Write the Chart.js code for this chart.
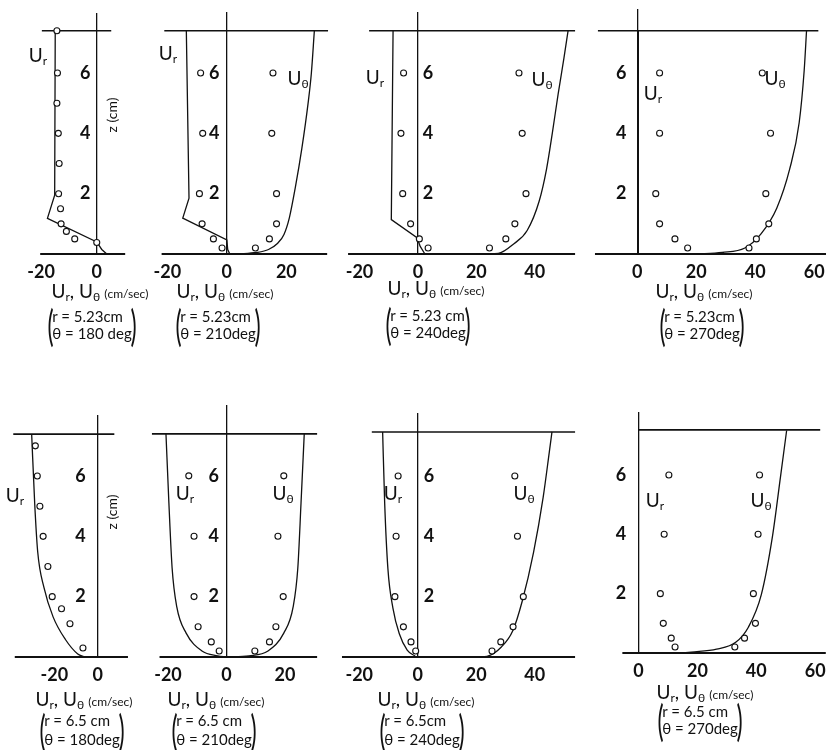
<!DOCTYPE html>
<html>
<head>
<meta charset="utf-8">
<script src="https://cdn.jsdelivr.net/npm/chart.js@4.4.1/dist/chart.umd.min.js"></script>
<style>
  html, body { margin: 0; padding: 0; background: #fff; }
  #fig { position: relative; width: 831px; height: 750px; overflow: hidden; font-family: Lato, 'DejaVu Sans', sans-serif; color: #111; }
  #fig canvas { position: absolute; }
  .lbl { position: absolute; transform: translate(-50%, -50%); white-space: nowrap; line-height: 1; }
  .u { font-size: 19px; }
  .u sub { font-size: 12px; vertical-align: -3px; }
  .unit { font-size: 12px; }
  .zlab { transform: translate(-50%, -50%) rotate(-90deg); font-size: 14px; }
  .cond { display: flex; align-items: center; }
  .paren { font-size: 42px; line-height: 1; display: inline-block; transform: scaleX(0.55); margin: 0 -4px; }
  .cond .lines { font-size: 15px; line-height: 17px; }
  .cond.low .lines { line-height: 19px; }
</style>
</head>
<body>
<div id="fig"></div>
<script>
// heights (cm) of the measured points, shared by most stations
const zMeas = [6, 4, 2, 1, 0.5, 0.2];
const yTicks = [2, 4, 6];

// r = 5.23 cm, theta = 180 deg
const p1UrPtsX = [-14.3, -14.1, -14.3, -13.8, -13.5, -13.7, -13.0, -12.8, -10.9, -7.9, 0];
const p1UrPtsZ = [7.4, 6, 5, 4, 3, 2, 1.5, 1, 0.75, 0.5, 0.38];
const p1UrLineX = [-14.9, -15.1, -17.7, 0, 1.8, 3.6];
const p1UrLineZ = [7.4, 1.95, 1.18, 0.4, 0.15, 0];

// r = 5.23 cm, theta = 210 deg
const p2UrPtsX = [-8.8, -8.1, -9.2, -8.3, -4.5, -1.6];
const p2UtPtsX = [15.5, 15.1, 16.7, 16.7, 14.3, 9.6];
const p2UrLineX = [-13.6, -12.7, -14.8, 0, 0.3, 1];
const p2UrLineZ = [7.4, 1.85, 1.19, 0.47, 0.15, 0];
const p2UtLineX = [0, 5, 10, 14, 17, 19.2, 21, 23, 25.2, 27.3, 28.4, 29.4];
const p2UtLineZ = [0, 0.01, 0.05, 0.15, 0.35, 0.65, 1.2, 2.2, 3.5, 5.0, 6.0, 7.4];

// r = 5.23 cm, theta = 240 deg
const p3UrPtsX = [-4.9, -5.8, -5.2, -2.5, 0.5, 3.5];
const p3UtPtsX = [34.6, 35.7, 37, 33.2, 30.1, 24.5];
const p3UrLineX = [-8.5, -9.1, -0.3, 0.8, 2.4];
const p3UrLineZ = [7.4, 1.14, 0.54, 0.25, 0];
const p3UtLineX = [20, 27.5, 33, 37.4, 41.5, 44, 46, 48, 50, 51.4];
const p3UtLineZ = [0, 0.02, 0.35, 0.78, 1.75, 2.8, 4, 5.3, 6.5, 7.4];

// r = 5.23 cm, theta = 270 deg
const p4UrPtsX = [7.6, 7.6, 6.3, 7.6, 12.8, 17.1];
const p4UtPtsX = [42.4, 45.2, 43.6, 44.6, 40.4, 37.9];
const p4UrLineX = [0.4, 0.4];
const p4UrLineZ = [0, 7.4];
const p4UtLineX = [20, 28.8, 36.5, 41.9, 47.3, 51.7, 54.9, 56.6, 57.4];
const p4UtLineZ = [0, 0.05, 0.2, 0.66, 1.52, 2.82, 4.35, 6.08, 7.4];

// r = 6.5 cm, theta = 180 deg
const p5UrPtsX = [-28.8, -27.9, -26.7, -25.2, -23.0, -21.0, -16.7, -12.8, -6.8];
const p5UrPtsZ = [7.0, 6, 5, 4, 3, 2, 1.6, 1.1, 0.3];
const p5UrLineX = [-30.5, -29.1, -27.7, -24.8, -20.6, -14.9, -9.2, -6];
const p5UrLineZ = [7.39, 5.1, 3.48, 2.3, 1.33, 0.58, 0.1, 0];

// r = 6.5 cm, theta = 210 deg
const p6UrPtsX = [-12.9, -11.1, -11.1, -9.7, -5.2, -2.5];
const p6UtPtsX = [19.6, 17.6, 19.4, 16.9, 14.7, 9.7];
const p6UrLineX = [-20.7, -19.7, -18.6, -17, -13.8, -8.4, -3, 0];
const p6UrLineZ = [7.39, 5.1, 2.95, 1.66, 0.79, 0.2, 0.04, 0];
const p6UtLineX = [0, 7.7, 14.2, 19.6, 22.8, 24.4, 25.5, 26.6];
const p6UtLineZ = [0, 0.04, 0.2, 0.79, 1.66, 2.95, 5.1, 7.39];

// r = 6.5 cm, theta = 240 deg
const p7UrPtsX = [-6.7, -7.4, -7.8, -4.9, -2.3, -0.7];
const p7UtPtsX = [33.2, 34.1, 36.1, 32.6, 28.4, 25.4];
const p7UrLineX = [-12, -11.3, -10.2, -8.5, -6.3, -3.6, -0.9];
const p7UrLineZ = [7.46, 5.1, 2.93, 1.63, 0.77, 0.23, 0.03];
const p7UtLineX = [21, 23.7, 28.6, 32.5, 35.7, 39.6, 42.9, 45, 45.9];
const p7UtLineZ = [0, 0.02, 0.33, 0.87, 1.84, 3.47, 5.3, 6.8, 7.46];

// r = 6.5 cm, theta = 270 deg
const p8UrPtsX = [10.3, 8.7, 7.4, 8.4, 11.1, 12.4];
const p8UtPtsX = [41.1, 40.6, 39, 39.7, 36, 32.7];
const p8UtLineX = [15, 17.9, 26.5, 33, 37.3, 41.7, 45.5, 48.2, 50.3];
const p8UtLineZ = [0, 0.03, 0.13, 0.36, 0.87, 1.97, 3.94, 5.93, 7.5];

// free surface level and its drawn extent, per station
const surfaceZ = [7.4, 7.4, 7.4, 7.4, 7.39, 7.39, 7.46, 7.52];
const surfaceFrom = [-19.7, -21, -16.7, -13.3, -39, -25.5, -15.7, 0];
const surfaceTo = [5.2, 34, 53.8, 61.4, 7.7, 31, 53.8, 61.7];
// tank floor (z = 0) extent, per station
const floorFrom = [-20.3, -21.9, -23.9, -14.3, -38.3, -22.9, -25.9, -5.5];
const floorTo = [10.2, 33.7, 53.8, 64, 14, 31, 53.8, 63.6];

const xTicks = [[-20, 0], [-20, 0, 20], [-20, 0, 20, 40], [0, 20, 40, 60],
                [-20, 0], [-20, 0, 20], [-20, 0, 20, 40], [0, 20, 40, 60]];
const stationR = ['5.23cm', '5.23cm', '5.23 cm', '5.23cm', '6.5 cm', '6.5 cm', '6.5cm', '6.5 cm'];
const stationTheta = ['180 deg', '210deg', '240deg', '270deg', '180deg', '210deg', '240deg', '270deg'];

// per panel: measured points [x, z] and model curves [x, z, smooth]
const pts = [
  [[p1UrPtsX, p1UrPtsZ]],
  [[p2UrPtsX, zMeas], [p2UtPtsX, zMeas]],
  [[p3UrPtsX, zMeas], [p3UtPtsX, zMeas]],
  [[p4UrPtsX, zMeas], [p4UtPtsX, zMeas]],
  [[p5UrPtsX, p5UrPtsZ]],
  [[p6UrPtsX, zMeas], [p6UtPtsX, zMeas]],
  [[p7UrPtsX, zMeas], [p7UtPtsX, zMeas]],
  [[p8UrPtsX, zMeas], [p8UtPtsX, zMeas]]
];
const curves = [
  [[p1UrLineX, p1UrLineZ, false]],
  [[p2UrLineX, p2UrLineZ, false], [p2UtLineX, p2UtLineZ, true]],
  [[p3UrLineX, p3UrLineZ, false], [p3UtLineX, p3UtLineZ, true]],
  [[p4UrLineX, p4UrLineZ, false], [p4UtLineX, p4UtLineZ, true]],
  [[p5UrLineX, p5UrLineZ, true]],
  [[p6UrLineX, p6UrLineZ, true], [p6UtLineX, p6UtLineZ, true]],
  [[p7UrLineX, p7UrLineZ, true], [p7UtLineX, p7UtLineZ, true]],
  [[p8UtLineX, p8UtLineZ, true]]
];

// page placement of each panel: canvas box, pixel of x=0 / z=0, px per unit, where the z labels sit
const frames = [
  {left: 14, right: 132, top: 8, x0: 99, sx: 3.05, z0: 254, sz: 30.8, tickX: -2.3},
  {left: 148, right: 334, top: 7, x0: 226, sx: 3.15, z0: 254, sz: 30.8, tickX: -2.5},
  {left: 340, right: 582, top: 7, x0: 416, sx: 3.05, z0: 254, sz: 30.8, tickX: 5.2},
  {left: 588, right: 831, top: 4, x0: 634, sx: 3.08, z0: 254, sz: 30.8, tickX: -3.6},
  {left: 6, right: 135, top: 410, x0: 100, sx: 2.35, z0: 657, sz: 30.8, tickX: -5.5},
  {left: 145, right: 324, top: 400, x0: 226, sx: 3.1, z0: 657, sz: 30.8, tickX: -2.6},
  {left: 334, right: 582, top: 408, x0: 416, sx: 3.05, z0: 657, sz: 30.8, tickX: 5.6},
  {left: 600, right: 831, top: 407, x0: 635, sx: 3.08, z0: 653, sz: 30.3, tickX: -4.2}
];
// caption centres: [x, y of first line, x of bracket block, y of bracket block, taller rows]
const captions = [
  [100, 292, 92, 325, false], [225, 292, 218, 325, false],
  [436, 289, 428, 324, false], [704, 292, 702, 325, false],
  [84, 700, 82, 730, true], [216, 700, 214, 730, true],
  [426, 700, 422, 730, true], [705, 693, 700, 720, false]
];
// in-panel curve names: [text, x, y]
const tags = [
  ['r', 38, 56], ['r', 168, 54], ['t', 298, 79], ['r', 375, 78], ['t', 542, 80],
  ['r', 653, 94], ['t', 775, 79], ['r', 15, 496], ['r', 185, 494], ['t', 283, 494],
  ['r', 393, 494], ['t', 524, 494], ['r', 655, 501], ['t', 761, 501]
];
const zTitles = [[112, 115], [112, 512]];

const fig = document.getElementById('fig');
const AXIS_H = 40;
const ink = '#111';
const tickFont = {family: 'Lato', size: 18, weight: 'bold'};

function toXY(xs, zs) {
  return xs.map((x, k) => ({x: x, y: zs[k]}));
}

function lineSet(data, width, smooth) {
  return {
    data: data, showLine: true, pointRadius: 0, borderColor: ink, borderWidth: width,
    cubicInterpolationMode: smooth ? 'monotone' : 'default', tension: 0, clip: 4
  };
}

frames.forEach((f, i) => {
  const cv = document.createElement('canvas');
  const w = f.right - f.left;
  const h = f.z0 - f.top + AXIS_H;
  cv.width = w; cv.height = h;
  cv.style.left = f.left + 'px'; cv.style.top = f.top + 'px';
  cv.style.width = w + 'px'; cv.style.height = h + 'px';
  fig.appendChild(cv);

  const datasets = [];
  pts[i].forEach(p => datasets.push({
    data: toXY(p[0], p[1]),
    pointRadius: 3, pointBorderWidth: 1.1,
    pointBorderColor: ink, pointBackgroundColor: '#fff', showLine: false, clip: 4
  }));
  curves[i].forEach(c => datasets.push(lineSet(toXY(c[0], c[1]), 1.3, c[2])));
  datasets.push(lineSet([{x: surfaceFrom[i], y: surfaceZ[i]}, {x: surfaceTo[i], y: surfaceZ[i]}], 1.6, false));
  datasets.push(lineSet([{x: floorFrom[i], y: 0}, {x: floorTo[i], y: 0}], 1.8, false));

  new Chart(cv, {
    type: 'scatter',
    data: {datasets: datasets},
    options: {
      responsive: false,
      animation: false,
      devicePixelRatio: 1,
      layout: {padding: 0},
      plugins: {legend: {display: false}, tooltip: {enabled: false}},
      scales: {
        x: {
          type: 'linear',
          position: 'bottom',
          min: (f.left - f.x0) / f.sx,
          max: (f.right - f.x0) / f.sx,
          afterBuildTicks: s => { s.ticks = xTicks[i].map(v => ({value: v})); },
          afterFit: s => { s.height = AXIS_H; s.paddingLeft = 0; s.paddingRight = 0; },
          ticks: {font: tickFont, color: ink, padding: 7, maxRotation: 0, autoSkip: false},
          grid: {
            drawTicks: false,
            lineWidth: 1.3,
            color: c => (c.tick && c.tick.value === 0) ? ink : 'rgba(0,0,0,0)'
          },
          border: {display: false}
        },
        y: {
          type: 'linear',
          position: {x: f.tickX},
          min: 0,
          max: (f.z0 - f.top) / f.sz,
          afterBuildTicks: s => { s.ticks = yTicks.map(v => ({value: v})); },
          afterFit: s => { s.paddingTop = 0; s.paddingBottom = 0; },
          ticks: {font: tickFont, color: ink, padding: 0},
          grid: {display: false},
          border: {display: false}
        }
      }
    }
  });
});

function addLabel(html, x, y, cls) {
  const d = document.createElement('div');
  d.className = 'lbl ' + (cls || '');
  d.style.left = x + 'px';
  d.style.top = y + 'px';
  d.innerHTML = html;
  fig.appendChild(d);
}

const UR = '<span class="u">U<sub>r</sub></span>';
const UT = '<span class="u">U<sub>θ</sub></span>';

tags.forEach(t => addLabel(t[0] === 'r' ? UR : UT, t[1], t[2]));
zTitles.forEach(t => addLabel('z (cm)', t[0], t[1], 'zlab'));

captions.forEach((c, i) => {
  addLabel('<span class="u">U<sub>r</sub>, U<sub>θ</sub></span> <span class="unit">(cm/sec)</span>', c[0], c[1]);
  addLabel('<span class="paren">(</span><div class="lines">r = ' + stationR[i] +
           '<br>θ = ' + stationTheta[i] + '</div><span class="paren">)</span>', c[2], c[3],
           c[4] ? 'cond low' : 'cond');
});
</script>
</body>
</html>
